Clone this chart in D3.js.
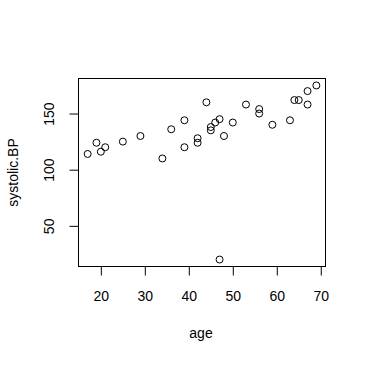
<!DOCTYPE html>
<html><head><meta charset="utf-8">
<script src="https://cdn.jsdelivr.net/npm/d3@7"></script>
<style>
html,body{margin:0;padding:0;background:#fff;}
text{font-family:"Liberation Sans",Arial,sans-serif;font-size:14px;fill:#000;}
</style></head>
<body>
<script>
const age = [39,47,45,47,65,46,67,42,67,56,64,56,59,34,42,48,45,17,20,19,36,50,39,21,44,53,63,29,25,69];
const systolicBP = [144,20,138,145,162,142,170,124,158,154,162,150,140,110,128,130,135,114,116,124,136,142,120,120,160,158,144,130,125,175];
const xTicks = [20,30,40,50,60,70];
const yTicks = [50,100,150];
const xLabel = "age";
const yLabel = "systolic.BP";

const W = 366, H = 365;
const L = 78.5, R = 325.5, T = 78.5, B = 266.5;

function ext(a){ const lo=d3.min(a), hi=d3.max(a), d=(hi-lo)*0.04; return [lo-d, hi+d]; }

const x = d3.scaleLinear().domain(ext(age)).range([L, R]);
const y = d3.scaleLinear().domain(ext(systolicBP)).range([B, T]);

const svg = d3.select("body").append("svg").attr("width", W).attr("height", H);

svg.append("rect").attr("x", L).attr("y", T).attr("width", R-L).attr("height", B-T)
  .attr("fill","none").attr("stroke","#000").attr("stroke-width",1);

const xAxis = svg.append("g").attr("transform", `translate(0,${B})`)
  .call(d3.axisBottom(x).tickValues(xTicks).tickSize(9).tickPadding(12).tickSizeOuter(0));
xAxis.select(".domain").attr("d", `M${x(20)},0H${x(70)}`);
xAxis.selectAll(".tick text").attr("y", null).attr("dy", null).attr("y", 34.5)
  .style("font-size","14px").style("font-family",'"Liberation Sans",Arial,sans-serif');

const yAxis = svg.append("g").attr("transform", `translate(${L},0)`)
  .call(d3.axisLeft(y).tickValues(yTicks).tickSize(9).tickSizeOuter(0).tickFormat(d3.format("d")));
yAxis.select(".domain").attr("d", `M0,${y(50)}V${y(150)}`);
yAxis.selectAll(".tick text").attr("x", null).attr("dy", null)
  .attr("transform", "translate(-25,0) rotate(-90)")
  .attr("text-anchor","middle").attr("dy","0")
  .style("font-size","14px").style("font-family",'"Liberation Sans",Arial,sans-serif');
svg.selectAll(".domain, .tick line").attr("stroke","#000");

svg.append("g").selectAll("circle").data(age).join("circle")
  .attr("cx", (d,i) => x(d)).attr("cy", (d,i) => y(systolicBP[i]))
  .attr("r", 3.5).attr("fill","none").attr("stroke","#000").attr("stroke-width",1);

svg.append("text").attr("x", (L+R)/2 - 1).attr("y", 338).attr("text-anchor","middle").text(xLabel);
svg.append("text").attr("transform", `translate(18,${(T+B)/2}) rotate(-90)`)
  .attr("text-anchor","middle").text(yLabel);
</script>
</body></html>
